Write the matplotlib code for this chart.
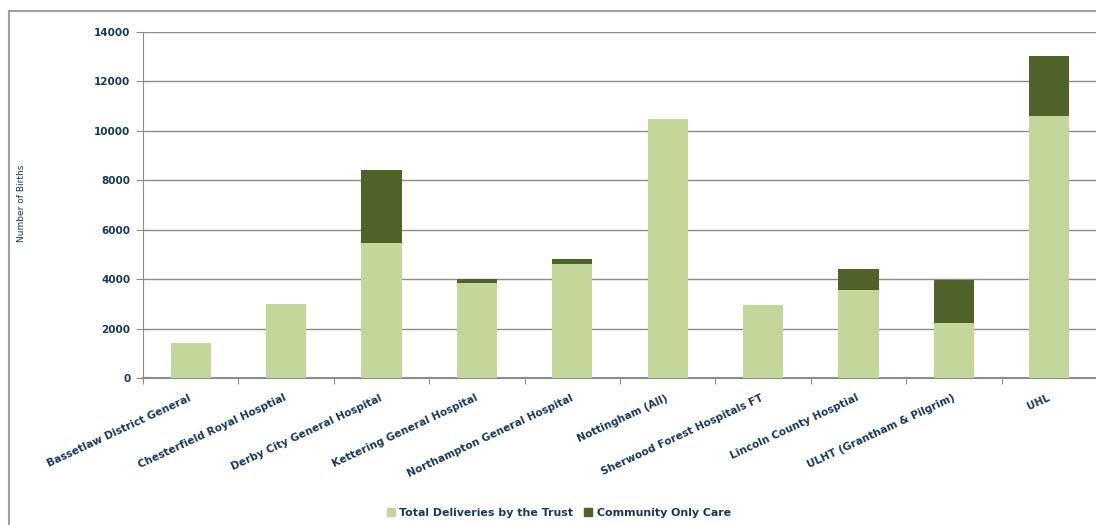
import matplotlib
matplotlib.use("Agg")
import matplotlib.pyplot as plt
from matplotlib.lines import Line2D
from matplotlib.patches import Patch
import numpy as np

# data
hospitals = ["Bassetlaw District General", "Chesterfield Royal Hosptial",
             "Derby City General Hospital", "Kettering General Hospital",
             "Northampton General Hospital", "Nottingham (All)",
             "Sherwood Forest Hospitals FT", "Lincoln County Hosptial",
             "ULHT (Grantham & Pilgrim)", "UHL"]
trust_deliveries = [1400, 2980, 5450, 3830, 4600, 10470, 2940, 3550, 2210, 10590]
community_only = [0, 0, 2950, 160, 200, 0, 0, 850, 1750, 2430]
y_ticks = [0, 2000, 4000, 6000, 8000, 10000, 12000, 14000]

light_green = "#C4D79B"
dark_green = "#4F6228"
navy = "#17375E"
grid_col = "#8C8C8C"

plt.rcParams['font.family'] = ['DejaVu Sans']

fig = plt.figure(figsize=(10.96, 5.25), dpi=100)
ax = fig.add_axes([143/1096, (525-378)/525, (1097-143)/1096, 346/525])

x = np.arange(len(hospitals))
ax.bar(x, trust_deliveries, width=0.42, color=light_green, zorder=3,
       label="Total Deliveries by the Trust")
ax.bar(x, community_only, width=0.42, bottom=trust_deliveries, color=dark_green,
       zorder=3, label="Community Only Care")

ax.set_xlim(-0.5, len(hospitals) - 0.5)
ax.set_ylim(0, 14000)
ax.set_yticks(y_ticks)
ax.set_yticklabels([str(v) for v in y_ticks], fontsize=7.5, fontweight='bold', color=navy)
ax.yaxis.grid(True, color=grid_col, lw=1.0, zorder=0)
ax.tick_params(axis='y', length=5, color=grid_col, pad=4)

# ticks between the categories, labels at category centres
ax.set_xticks(np.arange(len(hospitals) + 1) - 0.5)
ax.set_xticklabels([])
ax.tick_params(axis='x', length=4, color=grid_col)
for i, name in enumerate(hospitals):
    ax.annotate(name, xy=(i, 0), xycoords=('data', 'axes fraction'),
                xytext=(0, -14), textcoords='offset points',
                rotation=25, rotation_mode='anchor', ha='right', va='center',
                fontsize=7.6, fontweight='bold', color=navy)

for side in ['top', 'right']:
    ax.spines[side].set_visible(False)
ax.spines['left'].set_color(grid_col)
ax.spines['bottom'].set_color(grid_col)
ax.spines['bottom'].set_linewidth(1.5)

fig.text(22/1096, 1 - 203/525, "Number of Births", rotation=90, ha='center', va='center',
         fontsize=6.5, color=navy)

# chart border (cropped)
fig.add_artist(Line2D([9/1096, 1], [1 - 11/525, 1 - 11/525], color="#A0A0A0", lw=1.5))
fig.add_artist(Line2D([9/1096, 9/1096], [0, 1 - 11/525], color="#A0A0A0", lw=1.5))

handles = [Patch(color=light_green, label="Total Deliveries by the Trust"),
           Patch(color=dark_green, label="Community Only Care")]
leg = fig.legend(handles=handles, loc='center', bbox_to_anchor=(559/1096, 1 - 513/525),
                 ncol=2, frameon=False, handlelength=0.7, handleheight=0.7,
                 handletextpad=0.4, columnspacing=1.0,
                 prop={'size': 7.9, 'weight': 'bold'})
for t in leg.get_texts():
    t.set_color(navy)

fig.savefig("out.png", dpi=100)
